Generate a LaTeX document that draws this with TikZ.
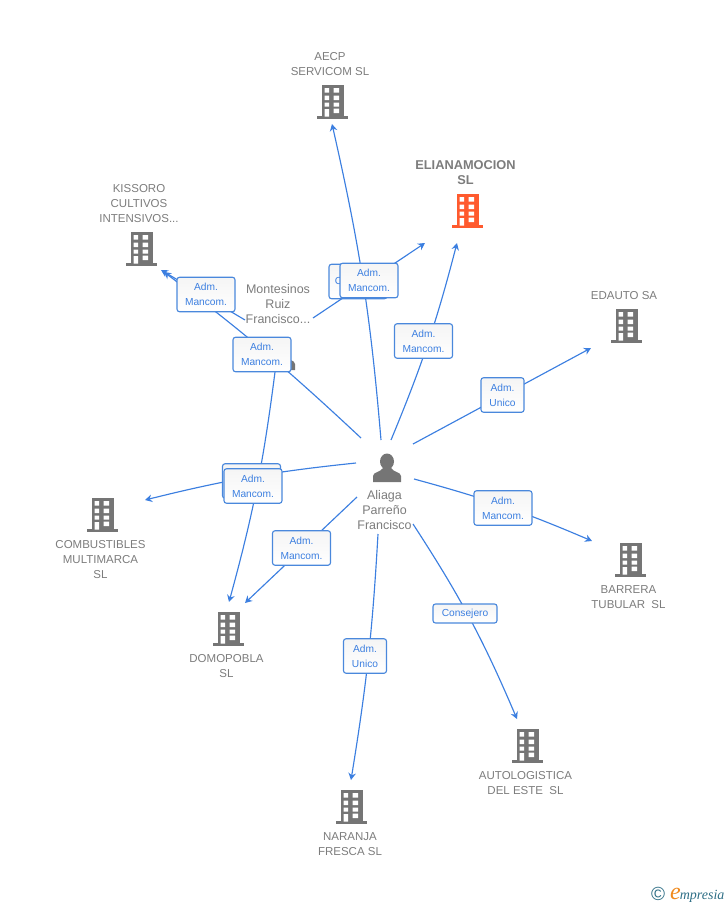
\documentclass[tikz,border=0pt]{standalone}
\usepackage{fontspec}
\usetikzlibrary{arrows.meta}
\setmainfont{Liberation Sans}
\newfontfamily\logofont{Liberation Serif}
\definecolor{lnk}{HTML}{3C7FE0}
\definecolor{boxln}{HTML}{4A88DC}
\definecolor{txt}{HTML}{7C7C7C}
\definecolor{ico}{HTML}{757575}
\definecolor{hot}{HTML}{FF5A2E}
\definecolor{teal1}{HTML}{2F6F86}
\definecolor{orng}{HTML}{F08A1E}
\tikzset{
  x=1pt,y=-1pt,
  conn/.style={draw=lnk,line width=1.15pt,-{Stealth[length=7pt,width=7.5pt]}},
  lab/.style={draw=boxln,line width=1.1pt,rounded corners=2.5pt,top color=white!96!black,bottom color=white,
    text=lnk,font=\fontsize{10.2}{15}\selectfont,align=center,inner sep=0pt,minimum height=34.5pt},
  lbw/.style={lab,minimum width=58pt},
  lbn/.style={lab,minimum width=43pt},
  lbs/.style={lab,minimum width=64pt,minimum height=19pt},
  nm/.style={text=txt,font=\fontsize{11.5}{15}\selectfont,align=center,inner sep=0pt},
  bldg/.pic={
    \fill[pic actions] (-10.5,-17) rectangle (11.5,14);
    \fill[pic actions] (-15.5,14) rectangle (15.5,17);
    \fill[white] (-7.5,-14) rectangle (-3,-9.5) (1.5,-14) rectangle (7,-9.5)
      (-7.5,-6.5) rectangle (-3,-2) (1.5,-6.5) rectangle (7,-2)
      (-7.5,0.5) rectangle (-3,4.5) (1.5,0.5) rectangle (7,4.5)
      (-7.5,7) rectangle (-3,14.5) (1.5,6.5) rectangle (7,11);
  },
  person/.pic={
    \fill[ico] (0,-6.5) ellipse (7 and 8);
    \fill[ico] (-14,14) -- (-14,8) .. controls (-14,4) and (-6,4) .. (-4,0) -- (4,0)
      .. controls (6,4) and (14,4) .. (14,8) -- (14,14) -- cycle;
  }
}
\begin{document}
\begin{tikzpicture}
\useasboundingbox (0,0) rectangle (728,905);
% free ends
\coordinate (a1) at (381,440); \coordinate (t1) at (332,124);
\coordinate (a2) at (391,440); \coordinate (t2) at (457,243);
\coordinate (a3) at (413,444); \coordinate (t3) at (591,348);
\coordinate (a4) at (414,479); \coordinate (t4) at (592,541);
\coordinate (a5) at (413,524); \coordinate (t5) at (517,719);
\coordinate (a6) at (378,534); \coordinate (t6) at (351,780);
\coordinate (a7) at (357,497); \coordinate (t7) at (245,603);
\coordinate (a8) at (356,463); \coordinate (t8) at (145,500);
\coordinate (a9) at (361,438); \coordinate (t9) at (164,272);
\coordinate (m1) at (245,320); \coordinate (t10) at (161,270);
\coordinate (m2) at (313,318); \coordinate (t11) at (425,243);
\coordinate (m3) at (275,372); \coordinate (t12) at (229,602);
% icons
\pic[fill=hot] at (467,211) {bldg};
\pic[fill=ico] at (141,249) {bldg};
\pic[fill=ico] at (626,326) {bldg};
\pic[fill=ico] at (102,515) {bldg};
\pic[fill=ico] at (630,560) {bldg};
\pic[fill=ico] at (228,629) {bldg};
\pic[fill=ico] at (351,807) {bldg};
\pic[fill=ico] at (527,746) {bldg};
\pic[fill=ico] at (332,102) {bldg};
\pic at (387,468) {person};
\pic at (281,356) {person};
% connectors
\draw[conn] (a1) to[bend right=4] (t1);
\draw[conn] (a2) to[bend right=4] (t2);
\draw[conn] (a3) -- (t3);
\draw[conn] (a4) to[bend left=4] (t4);
\draw[conn] (a5) to[bend left=5] (t5);
\draw[conn] (a6) to[bend left=3] (t6);
\draw[conn] (a7) -- (t7);
\draw[conn] (a8) to[bend right=4] (t8);
\draw[conn] (a9) to[bend right=3] (t9);
\draw[conn] (m1) -- (t10);
\draw[conn] (m2) -- (t11);
\draw[conn] (m3) to[bend left=4] (t12);
% labels on connectors
\node[lbw] (l11) at (358,281.5) {Consejero};
\node[lbw] (l1) at (369,280.5) {Adm.\\Mancom.};
\node[lbw] (l2) at (423.5,341) {Adm.\\Mancom.};
\node[lbn] (l3) at (502.5,395) {Adm.\\Unico};
\node[lbw] (l4) at (503,508) {Adm.\\Mancom.};
\node[lbs] (l5) at (465,613.5) {Consejero};
\node[lbn] (l6) at (365,656) {Adm.\\Unico};
\node[lbw] (l7) at (301.5,548) {Adm.\\Mancom.};
\node[lbw] (l12) at (251.5,481) {Adm.\\Mancom.};
\node[lbw] (l8) at (253,486) {Adm.\\Mancom.};
\node[lbw] (l10) at (206,294.5) {Adm.\\Mancom.};
\node[lbw] (l9) at (262,354.5) {Adm.\\Mancom.};
% names
\node[nm] (aecp) at (330,64.5) {AECP\\SERVICOM SL};
\node[nm,font=\fontsize{12.8}{15}\selectfont\bfseries] (eli) at (465.5,173) {ELIANAMOCION\\SL};
\node[nm] (kis) at (139,204) {KISSORO\\CULTIVOS\\INTENSIVOS...};
\node[nm] (eda) at (624,295.5) {EDAUTO SA};
\node[nm] (com) at (100.5,560) {COMBUSTIBLES\\MULTIMARCA\\SL};
\node[nm] (bar) at (628.5,597) {BARRERA\\TUBULAR\ \ SL};
\node[nm] (dom) at (226.5,666) {DOMOPOBLA\\SL};
\node[nm] (nar) at (350,844) {NARANJA\\FRESCA SL};
\node[nm] (aut) at (525.5,783) {AUTOLOGISTICA\\DEL ESTE\ \ SL};
\node[nm,font=\fontsize{12.5}{15}\selectfont] (ali) at (384.5,510) {Aliaga\\Parreño\\Francisco};
\node[nm,font=\fontsize{12.5}{15}\selectfont] (mon) at (278,304) {Montesinos\\Ruiz\\Francisco...};
% logo
\node[inner sep=0pt,text=teal1,font=\fontsize{19}{19}\selectfont] (cp) at (658,894) {©};
\node[inner sep=0pt,anchor=base west,font=\logofont\itshape] (lg) at (670,899) {\textcolor{orng}{\fontsize{24}{24}\selectfont e}\kern-1pt\textcolor{teal1}{\fontsize{14}{14}\selectfont mpresia}};
\end{tikzpicture}
\end{document}
